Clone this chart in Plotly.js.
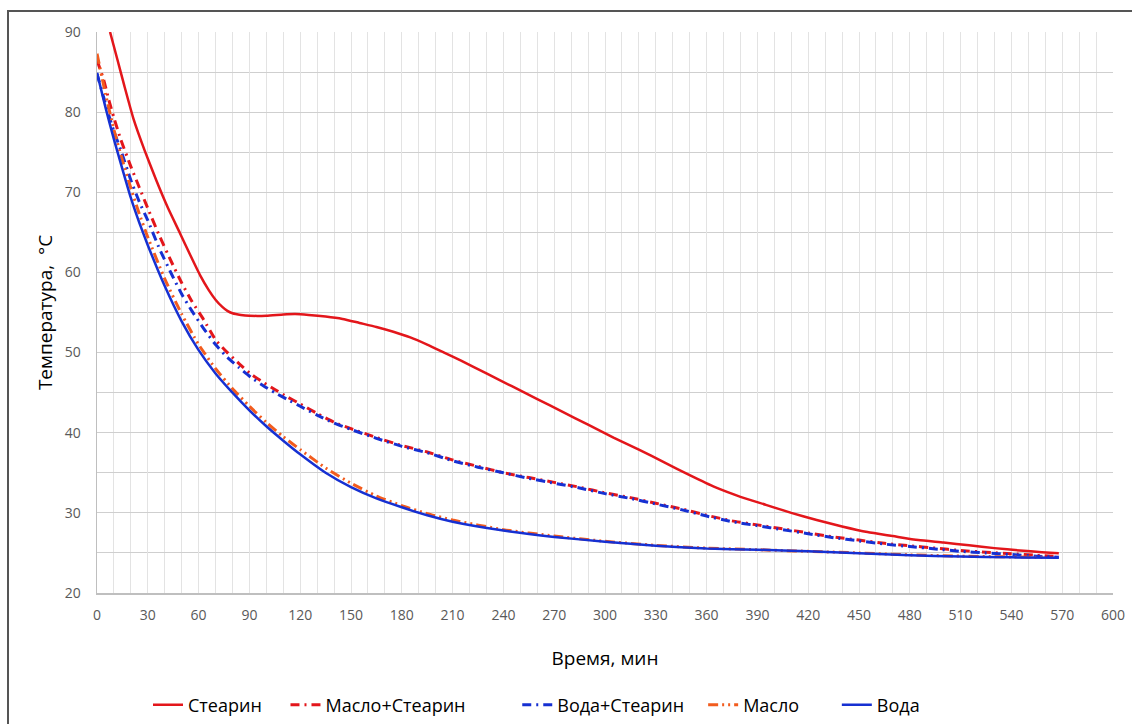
<!DOCTYPE html>
<html>
<head>
<meta charset="utf-8">
<script src="https://cdn.plot.ly/plotly-3.0.1.min.js"></script>
<style>
html,body{margin:0;padding:0;background:#fff;overflow:hidden;}
#wrap{position:relative;width:1132px;height:724px;}
#chart{width:1132px;height:724px;}
#frame{position:absolute;left:7px;top:10px;width:1200px;height:800px;border:2px solid #555;box-sizing:border-box;pointer-events:none;z-index:10;}
</style>
</head>
<body>
<div id="wrap"><div id="chart"></div><div id="frame"></div></div>
<script>
// ---- Data ----
const stearinT = [7.7, 12, 16, 21.5, 28, 35, 42, 49, 55, 61, 66, 70, 74, 77, 80, 85, 90, 100, 110, 117, 125, 135, 145, 155, 165, 175, 185, 195, 205, 215, 230, 245, 260, 275, 290, 305, 320, 335, 350, 365, 380, 395, 410, 425, 440, 455, 470, 485, 500, 515, 530, 545, 558, 568];
const stearinY = [90, 86.6, 83.4, 79.2, 75.3, 71.5, 68.0, 64.9, 62.2, 59.6, 57.8, 56.6, 55.7, 55.2, 54.9, 54.7, 54.6, 54.6, 54.75, 54.8, 54.7, 54.5, 54.2, 53.7, 53.2, 52.6, 51.9, 51.0, 50.0, 49.0, 47.4, 45.8, 44.2, 42.6, 41.0, 39.4, 37.9, 36.3, 34.7, 33.2, 32.0, 31.0, 30.0, 29.1, 28.3, 27.6, 27.1, 26.6, 26.3, 25.95, 25.6, 25.3, 25.1, 24.95];

const mixT = [0, 4, 7, 10, 14, 20, 25, 30, 37, 44, 50, 56, 63, 70, 77, 84, 91, 98, 105, 112, 120, 130, 140, 150, 165, 180, 195, 210, 225, 240, 255, 270, 285, 300, 315, 330, 345, 360, 375, 390, 405, 420, 435, 450, 465, 480, 495, 510, 525, 540, 555, 568];
const oilStearinY = [86.5, 84, 81.5, 79.3, 76.6, 73.2, 70.6, 68.0, 64.5, 61.3, 58.7, 56.4, 54.1, 51.6, 50.0, 48.6, 47.3, 46.3, 45.4, 44.5, 43.6, 42.4, 41.3, 40.5, 39.4, 38.4, 37.6, 36.6, 35.8, 35.0, 34.4, 33.8, 33.2, 32.5, 31.9, 31.2, 30.5, 29.7, 29.0, 28.5, 28.0, 27.5, 27.0, 26.6, 26.2, 25.9, 25.6, 25.3, 25.1, 24.9, 24.7, 24.55];
const waterStearinY = [84.8, 81.8, 79.6, 77.6, 75.3, 71.5, 68.8, 66.5, 62.9, 59.8, 57.3, 55.2, 53.0, 51.0, 49.4, 48.1, 46.9, 45.9, 45.0, 44.2, 43.3, 42.2, 41.2, 40.4, 39.3, 38.3, 37.5, 36.5, 35.7, 35.0, 34.3, 33.7, 33.1, 32.4, 31.8, 31.1, 30.4, 29.6, 28.9, 28.4, 27.9, 27.4, 26.9, 26.5, 26.1, 25.8, 25.5, 25.2, 25.0, 24.8, 24.6, 24.45];

const waterT = [0, 5, 10, 15, 20, 25, 30, 40, 50, 60, 70, 80, 90, 100, 110, 120, 135, 150, 165, 180, 195, 210, 240, 270, 300, 330, 360, 390, 420, 450, 480, 510, 540, 568];
const waterY = [84.9, 80.6, 76.6, 72.9, 69.3, 66.2, 63.4, 58.3, 53.9, 50.3, 47.4, 45.0, 42.8, 40.8, 39.0, 37.3, 35.0, 33.2, 31.8, 30.7, 29.7, 28.9, 27.8, 27.0, 26.4, 25.9, 25.55, 25.4, 25.2, 24.95, 24.7, 24.55, 24.45, 24.4];

const oilT = [0, 5, 10, 15, 20, 25, 30, 40, 50, 60, 70, 80, 90, 100, 110, 120, 135, 150, 165, 180, 195, 210, 240, 270, 300, 330, 360, 390, 420, 450, 480, 510, 540, 560];
const oilY = [87.3, 82.3, 77.8, 74.0, 70.5, 67.3, 64.4, 59.2, 54.8, 51.0, 48.0, 45.5, 43.3, 41.3, 39.5, 37.9, 35.6, 33.7, 32.1, 30.9, 29.9, 29.1, 27.9, 27.1, 26.45, 25.95, 25.6, 25.4, 25.2, 25.0, 24.75, 24.6, 24.5, 24.45];

const seriesNames = ['Стеарин', 'Масло+Стеарин', 'Вода+Стеарин', 'Масло', 'Вода'];
const xTicks = [0, 30, 60, 90, 120, 150, 180, 210, 240, 270, 300, 330, 360, 390, 420, 450, 480, 510, 540, 570, 600];
const yTicks = [20, 30, 40, 50, 60, 70, 80, 90];

// ---- Styles ----
const RED = '#E3161B', BLUE = '#1630D2', ORANGE = '#F25C1E';
const legendPad = [4, 10, 3, 7, 0];   // non-breaking spaces after each legend label (spacing only)
const specs = [
  {x: stearinT, y: stearinY, line: {color: RED, width: 2.5}},
  {x: mixT, y: oilStearinY, line: {color: RED, width: 3, dash: '9px,5px,2px,5px'}},
  {x: mixT, y: waterStearinY, line: {color: BLUE, width: 3, dash: '9px,5px,2px,5px'}},
  {x: oilT, y: oilY, line: {color: ORANGE, width: 3, dash: '10px,4px,2px,4px,2px,4px'}},
  {x: waterT, y: waterY, line: {color: BLUE, width: 2.5}}
];
const traces = specs.map((s, i) => ({
  type: 'scatter', mode: 'lines', hoverinfo: 'skip',
  name: seriesNames[i] + '\u00A0'.repeat(legendPad[i]),
  x: s.x, y: s.y,
  line: Object.assign({shape: 'spline', smoothing: 0.5}, s.line)
}));

const FONT = 'Open Sans, DejaVu Sans, sans-serif';
// plot area: left 97, right 1113, top 32, bottom 593 (px)
const PL = 97, PR = 1113, PT = 32, PB = 593;
const layout = {
  width: 1132, height: 724,
  margin: {l: PL, r: 1132 - PR, t: PT, b: 724 - PB, pad: 0, autoexpand: false},
  paper_bgcolor: '#fff', plot_bgcolor: '#fff',
  font: {family: FONT, color: '#595959', size: 14},
  showlegend: true,
  legend: {orientation: 'h', xref: 'container', yref: 'container',
           x: 148 / 1132, xanchor: 'left', y: (724 - 705) / 724, yanchor: 'middle',
           font: {family: FONT, size: 18, color: '#000'}, itemwidth: 30, tracegroupgap: 0,
           traceorder: 'normal', bgcolor: 'rgba(0,0,0,0)'},
  xaxis: {
    range: [0, 600], tickmode: 'array', tickvals: xTicks, ticktext: xTicks.map(String),
    showgrid: true, gridcolor: '#e3e3e3', gridwidth: 1,
    minor: {dtick: 10, showgrid: true, gridcolor: '#e3e3e3', gridwidth: 1, tick0: 0},
    showline: true, linecolor: '#bfbfbf', linewidth: 1.5, zeroline: false, automargin: false,
    ticks: '', ticklabelstandoff: 9, tickfont: {size: 14, color: '#595959', family: FONT},
    title: {text: 'Время, мин', font: {size: 19, color: '#000', family: FONT}, standoff: 28}
  },
  yaxis: {
    range: [20, 90], tickmode: 'array', tickvals: yTicks, ticktext: yTicks.map(String),
    showgrid: true, gridcolor: '#cfcfcf', gridwidth: 1,
    minor: {dtick: 5, showgrid: true, gridcolor: '#cfcfcf', gridwidth: 1, tick0: 0},
    showline: true, linecolor: '#bfbfbf', linewidth: 1.5, zeroline: false, automargin: false,
    ticks: '', ticklabelstandoff: 12, tickfont: {size: 14, color: '#595959', family: FONT},
    title: {text: 'Температура,\u00A0 °C', font: {size: 19, color: '#000', family: FONT}, standoff: 7}
  }
};
Plotly.newPlot('chart', traces, layout, {staticPlot: true, displayModeBar: false});
</script>
</body>
</html>
